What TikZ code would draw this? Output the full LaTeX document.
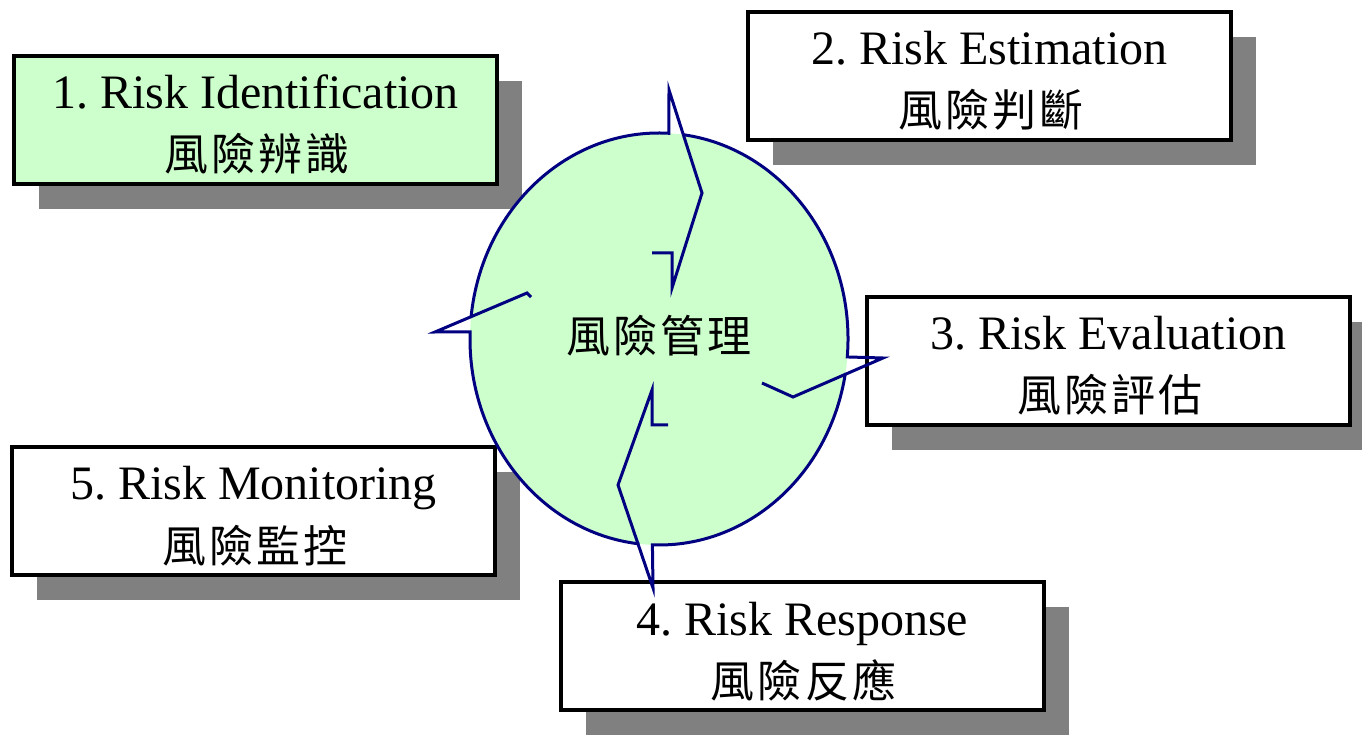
\documentclass[tikz,border=0pt]{standalone}
\usepackage{fontspec}
\setmainfont{Liberation Serif}
\newfontfamily\cjkfont[LetterSpace=7]{Noto Sans CJK TC}
\usetikzlibrary{calc,shadows}
\frenchspacing
\definecolor{mint}{HTML}{CCFFCC}
\definecolor{navy}{HTML}{000080}
\definecolor{shade}{HTML}{808080}
\tikzset{
  card/.style={draw=black, line width=4pt, minimum width=483pt, minimum height=128pt,
    inner sep=0pt, outer sep=0pt,
    drop shadow={shadow xshift=25pt, shadow yshift=-25pt, fill=shade, opacity=1}},
  entitle/.style={font=\fontsize{48}{56}\selectfont, anchor=base, inner sep=0pt},
  zhtitle/.style={font=\cjkfont\fontsize{44}{52}\selectfont, anchor=base, inner sep=0pt},
  ring/.style={draw=navy, line width=3pt},
  ellarc/.style={x radius=189, y radius=206}
}
\begin{document}
\begin{tikzpicture}[x=1pt,y=1pt]
\useasboundingbox (0,0) rectangle (1362,734);

% process boxes with drop shadows
\node[card, fill=mint]  (b1) at (255.5,614) {};
\node[card, fill=white] (b2) at (989.5,658) {};
\node[card, fill=white] (b3) at (1108.5,373) {};
\node[card, fill=white] (b4) at (802,88) {};
\node[card, fill=white] (b5) at (253.5,223) {};

\node[entitle] (t1a) at ($(b1.north)+(0,-53)$) {1. Risk Identification};
\node[zhtitle] (t1b) at ($(b1.north)+(1.5,-115)$) {風險辨識};
\node[entitle] (t2a) at ($(b2.north)+(0,-53)$) {2. Risk Estimation};
\node[zhtitle] (t2b) at ($(b2.north)+(1.5,-115)$) {風險判斷};
\node[entitle] (t3a) at ($(b3.north)+(0,-53)$) {3. Risk Evaluation};
\node[zhtitle] (t3b) at ($(b3.north)+(1.5,-115)$) {風險評估};
\node[entitle] (t4a) at ($(b4.north)+(0,-53)$) {4. Risk Response};
\node[zhtitle] (t4b) at ($(b4.north)+(1.5,-115)$) {風險反應};
\node[entitle] (t5a) at ($(b5.north)+(0,-53)$) {5. Risk Monitoring};
\node[zhtitle] (t5b) at ($(b5.north)+(1.5,-115)$) {風險監控};

% central cycle
\coordinate (C) at (659,395);
\fill[mint] (C) ellipse[ellarc];

\coordinate (a1s) at ($(C)+(87:189 and 206)$);
\coordinate (a3s) at ($(C)+(-5:189 and 206)$);
\coordinate (a4s) at ($(C)+(-92:189 and 206)$);
\coordinate (a5s) at ($(C)+(178:189 and 206)$);

% each bent arrow runs on into the next stretch of the rim
\draw[ring] (652,481) -- (672,481) -- (672,446) -- (702,541) -- (669,644) -- (a1s)
  arc[start angle=87, end angle=173.8, ellarc];
\draw[ring] (531,437) -- (527,441) -- (435,402) -- (a5s)
  arc[start angle=178, end angle=264, ellarc];
\draw[ring] (668,309) -- (652,309) -- (652,344) -- (618,249) -- (653,146) -- (a4s)
  arc[start angle=-92, end angle=-9.5, ellarc];
\draw[ring] (762,351) -- (793,337) -- (883,376) -- (a3s)
  arc[start angle=-5, end angle=82.5, ellarc];

\node[zhtitle] (core) at (659,381) {風險管理};
\end{tikzpicture}
\end{document}
